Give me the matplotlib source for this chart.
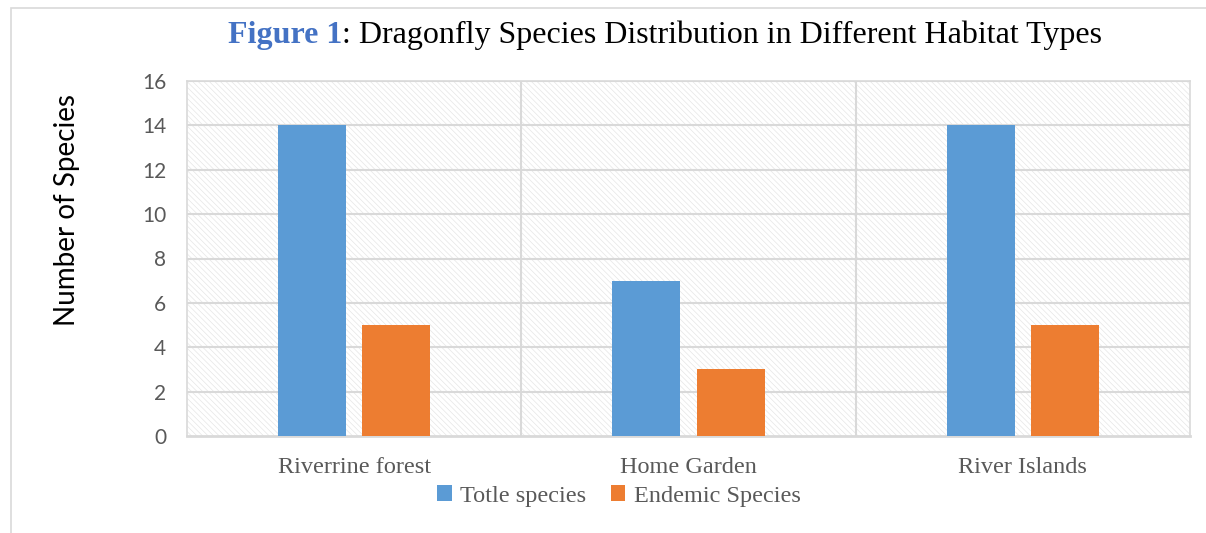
import numpy as np
import matplotlib.pyplot as plt
from matplotlib.patches import Rectangle

habitats = ['Riverrine forest', 'Home Garden', 'River Islands']
total_species = [14, 7, 14]
endemic_species = [5, 3, 5]
series_names = ['Totle species', 'Endemic Species']
yticks = [0, 2, 4, 6, 8, 10, 12, 14, 16]

blue = '#5b9bd5'
orange = '#ed7d31'
grid = '#d9d9d9'
label_grey = '#595959'

fig = plt.figure(figsize=(12.06, 5.33), dpi=100)
ax = fig.add_axes([187 / 1206, 1 - 436 / 533, 1003 / 1206, 355 / 533])

# outer chart frame (top and left edges visible)
fig.patches.append(Rectangle((11 / 1206, -0.1), 1.2, 1 - 8 / 533 + 0.1,
                             transform=fig.transFigure, fill=False,
                             edgecolor='#d9d9d9', linewidth=1.2))

# hatched plot background
plt.rcParams['hatch.linewidth'] = 0.5
ax.add_patch(Rectangle((0, 0), 1, 1, transform=ax.transAxes, facecolor='white',
                       edgecolor='#e6e6e6', hatch='\\\\\\\\\\\\', linewidth=0, zorder=0))

x = np.arange(len(habitats))
w = 0.204
gap = 0.048
ax.bar(x - (w + gap) / 2, total_species, w, color=blue, label=series_names[0], zorder=3)
ax.bar(x + (w + gap) / 2, endemic_species, w, color=orange, label=series_names[1], zorder=3)

ax.set_xlim(-0.5, len(habitats) - 0.5)
ax.set_ylim(0, 16)
ax.set_yticks(yticks)
ax.set_xticks(x)
ax.set_xticklabels(habitats, family='Liberation Serif', fontsize=17.5, color=label_grey)
ax.tick_params(axis='y', length=0, pad=15, labelsize=15, labelcolor=label_grey)
ax.tick_params(axis='x', length=0, pad=15)
for t in ax.get_yticklabels():
    t.set_family('Lato')

for v in yticks[1:]:
    ax.axhline(v, color=grid, linewidth=1.5, zorder=1)
for b in [0.5, 1.5]:
    ax.axvline(b, color=grid, linewidth=1.5, zorder=1)
for s in ax.spines.values():
    s.set_color(grid)
    s.set_linewidth(1.2)
ax.spines['bottom'].set_linewidth(2)

ax.set_ylabel('Number of Species', family='Lato', fontsize=20, color='black')
ax.yaxis.set_label_coords(-0.107, 0.637)

# title: bold blue "Figure 1" followed by plain text
t1 = fig.text(228 / 1206, 1 - 35 / 533, 'Figure 1', family='Liberation Serif',
              fontweight='bold', fontsize=23, color='#4472c4', va='center', ha='left')
fig.canvas.draw()
bb = t1.get_window_extent()
fig.text(bb.x1 / 1206, 1 - 35 / 533, ': Dragonfly Species Distribution in Different Habitat Types',
         family='Liberation Serif', fontsize=23, color='black', va='center', ha='left')

leg = ax.legend(loc='center', bbox_to_anchor=(619 / 1206, 1 - 496 / 533),
                bbox_transform=fig.transFigure, ncol=2, frameon=False,
                prop={'family': 'Liberation Serif', 'size': 17.5},
                handlelength=0.6, handleheight=0.6, handletextpad=0.35, columnspacing=1.0)
for t in leg.get_texts():
    t.set_color(label_grey)

fig.savefig('out.png', dpi=100)
